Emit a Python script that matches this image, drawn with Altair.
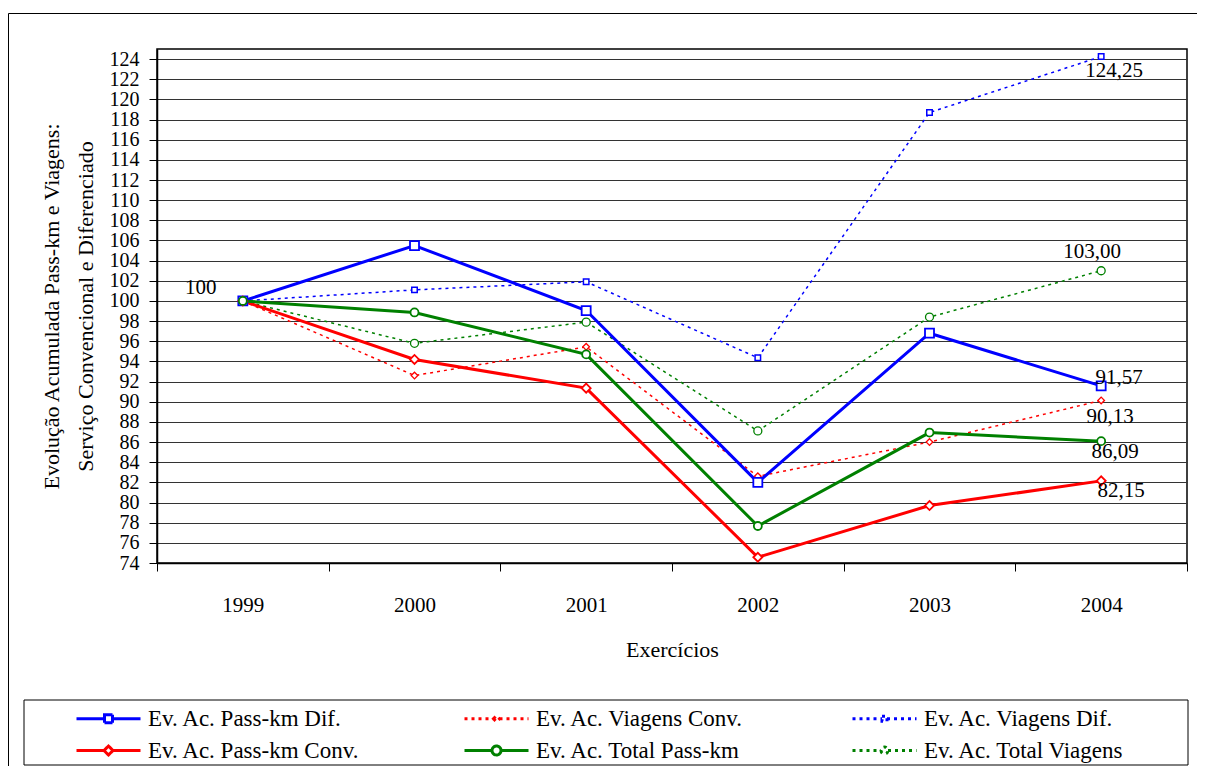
import altair as alt
import pandas as pd

# ---------------- data ----------------
years = ["1999", "2000", "2001", "2002", "2003", "2004"]
series_names = [
    "Ev. Ac. Pass-km Dif.",
    "Ev. Ac. Pass-km Conv.",
    "Ev. Ac. Viagens Conv.",
    "Ev. Ac. Total Pass-km",
    "Ev. Ac. Viagens Dif.",
    "Ev. Ac. Total Viagens",
]
passkm_dif = [100.0, 105.5, 99.05, 82.0, 96.8, 91.57]
passkm_conv = [100.0, 94.2, 91.35, 74.57, 79.7, 82.15]
viagens_conv = [100.0, 92.6, 95.45, 82.6, 86.0, 90.13]
total_passkm = [100.0, 98.86, 94.7, 77.67, 86.94, 86.09]
viagens_dif = [100.0, 101.1, 101.9, 94.36, 118.7, 124.25]
total_viagens = [100.0, 95.8, 97.9, 87.1, 98.4, 103.0]
series_values = [passkm_dif, passkm_conv, viagens_conv, total_passkm, viagens_dif, total_viagens]

y_ticks = list(range(74, 125, 2))
y_title = ["Evolução Acumulada Pass-km e Viagens:", "Serviço Convencional e Diferenciado"]
x_title = "Exercícios"

rows = []
for name, vals in zip(series_names, series_values):
    for yr, v in zip(years, vals):
        rows.append({"series": name, "year": yr, "value": v})
df = pd.DataFrame(rows)

ann_rows = [{"series": series_names[0], "year": years[0], "value": passkm_dif[0], "label": "100"}]
for name, vals in zip(series_names, series_values):
    ann_rows.append({"series": name, "year": years[-1], "value": vals[-1],
                     "label": f"{vals[-1]:.2f}".replace(".", ",")})
ann = pd.DataFrame(ann_rows)

# ---------------- styles ----------------
FONT = "Liberation Serif"
BLUE, RED, GREEN = "#0000FF", "#FF0000", "#008000"
DOT = [3, 4]

def p_square(h):
    return f"M-6.4,0H{-h}M{h},0H6.4M{-h},{-h}H{h}V{h}H{-h}Z"

def p_diamond(h):
    return f"M-6.4,0H{-h}M{h},0H6.4M{-h},0L0,{-h}L{h},0L0,{h}Z"

def p_circle(r):
    return f"M-6.4,0H{-r}M{r},0H6.4M{-r},0A{r},{r} 0 1,0 {r},0A{r},{r} 0 1,0 {-r},0Z"

styles = {
    "Ev. Ac. Pass-km Dif.": dict(color=BLUE, width=3.0, dash=None, shape="square", size=81, mw=1.8, lp=p_square(0.8)),
    "Ev. Ac. Viagens Conv.": dict(color=RED, width=1.5, dash=DOT, shape="diamond", size=44, mw=1.3, lp=p_diamond(0.6)),
    "Ev. Ac. Viagens Dif.": dict(color=BLUE, width=1.5, dash=DOT, shape="square", size=30, mw=1.5, lp=p_square(0.5)),
    "Ev. Ac. Pass-km Conv.": dict(color=RED, width=3.0, dash=None, shape="diamond", size=81, mw=1.8, lp=p_diamond(0.9)),
    "Ev. Ac. Total Pass-km": dict(color=GREEN, width=3.0, dash=None, shape="circle", size=64, mw=1.8, lp=p_circle(0.9)),
    "Ev. Ac. Total Viagens": dict(color=GREEN, width=1.5, dash=DOT, shape="circle", size=64, mw=1.3, lp=p_circle(0.7)),
}

ann_offsets = {
    "100": (-42, -13),
    "Ev. Ac. Viagens Dif.": (13, 14),
    "Ev. Ac. Total Viagens": (-9, -19),
    "Ev. Ac. Pass-km Dif.": (18, -8),
    "Ev. Ac. Viagens Conv.": (9, 17),
    "Ev. Ac. Total Pass-km": (14, 11),
    "Ev. Ac. Pass-km Conv.": (20, 10),
}

# ---------------- shared encodings ----------------
x_enc = alt.X(
    "year:O",
    scale=alt.Scale(type="band", domain=years, paddingInner=0, paddingOuter=0),
    axis=alt.Axis(
        title=x_title, labelAngle=0, tickBand="extent", grid=False,
        labelFont=FONT, titleFont=FONT, titleFontWeight="normal",
        labelPadding=23, tickSize=8, titlePadding=24, titleFontSize=22, labelFontSize=21,
    ),
)
y_enc = alt.Y(
    "value:Q",
    scale=alt.Scale(domain=[74, 125], nice=False, zero=False),
    axis=alt.Axis(
        values=y_ticks, labelOverlap=False, grid=True, gridColor="#333333", gridWidth=1,
        labelFont=FONT, titleFont=FONT, titleFontWeight="normal",
        labelPadding=10, tickSize=8, labelFontSize=20,
        title=y_title, titleFontSize=22, titleAngle=270, titleBaseline="middle",
        titleAlign="center", titleX=-106, titleY=257, titleLineHeight=34,
    ),
)

layers = []
base = alt.Chart(df)

order = [n for n in series_names if styles[n]["dash"]] + [n for n in series_names if not styles[n]["dash"]]
for n in order:
    s = styles[n]
    kw = dict(color=s["color"], strokeWidth=s["width"])
    if s["dash"]:
        kw["strokeDash"] = s["dash"]
    layers.append(base.transform_filter(alt.datum.series == n).mark_line(**kw))

for n in order:
    s = styles[n]
    layers.append(
        base.transform_filter(alt.datum.series == n)
        .mark_point(shape=s["shape"], size=s["size"], filled=True, fill="white",
                    stroke=s["color"], strokeWidth=s["mw"], opacity=1)
    )

ann_base = alt.Chart(ann)
for key, (dx, dy) in ann_offsets.items():
    if key == "100":
        flt = (alt.datum.label == "100")
    else:
        flt = (alt.datum.series == key) & (alt.datum.year == years[-1])
    layers.append(
        ann_base.transform_filter(flt)
        .mark_text(font=FONT, fontSize=21, color="black", dx=dx, dy=dy,
                   align="center", baseline="middle")
        .encode(text="label:N")
    )

leg = alt.Legend(
    title=None, orient="none", legendX=-60, legendY=658, columns=3, gridAlign="all",
    columnPadding=98, rowPadding=8, labelFont=FONT, labelFontSize=23, labelColor="black",
    labelOffset=28, labelLimit=600, symbolSize=100, padding=0,
)
layers.append(
    base.transform_filter("false")
    .mark_point(filled=False, opacity=1)
    .encode(
        color=alt.Color("series:N", scale=alt.Scale(domain=series_names,
                        range=[styles[n]["color"] for n in series_names]), legend=leg),
        shape=alt.Shape("series:N", scale=alt.Scale(domain=series_names,
                        range=[styles[n]["lp"] for n in series_names]), legend=leg),
        strokeDash=alt.StrokeDash("series:N", scale=alt.Scale(domain=series_names,
                        range=[styles[n]["dash"] or [1, 0] for n in series_names]), legend=leg),
        strokeWidth=alt.StrokeWidth("series:N", scale=alt.Scale(domain=series_names,
                        range=[styles[n]["width"] for n in series_names]), legend=leg),
    )
)

one = alt.Chart(pd.DataFrame({"k": [0]}))
layers.append(one.mark_rect(filled=False, stroke="black", strokeWidth=1).encode(
    x=alt.value(-133), x2=alt.value(1031), y=alt.value(651), y2=alt.value(716)))
layers.append(one.mark_rule(color="black", strokeWidth=1).encode(
    x=alt.value(-148.5), x2=alt.value(1045), y=alt.value(-35.5)))
layers.append(one.mark_rule(color="black", strokeWidth=1).encode(
    x=alt.value(-148.5), y=alt.value(-35.5), y2=alt.value(720)))

chart = (
    alt.layer(*layers)
    .encode(x=x_enc, y=y_enc)
    .properties(
        width=1030, height=514,
        autosize=alt.AutoSizeParams(type="none"),
        padding={"left": 149, "top": 41, "right": 10, "bottom": 203},
        background="white",
    )
    .configure_view(stroke="black", strokeWidth=1.5)
    .configure_axis(
        labelFont=FONT, labelColor="black",
        titleFont=FONT, titleFontWeight="normal", titleColor="black",
        tickColor="black", domainColor="black", domainWidth=1.5,
    )
)

chart.save("out.html", embed_options={"renderer": "svg", "actions": False})
